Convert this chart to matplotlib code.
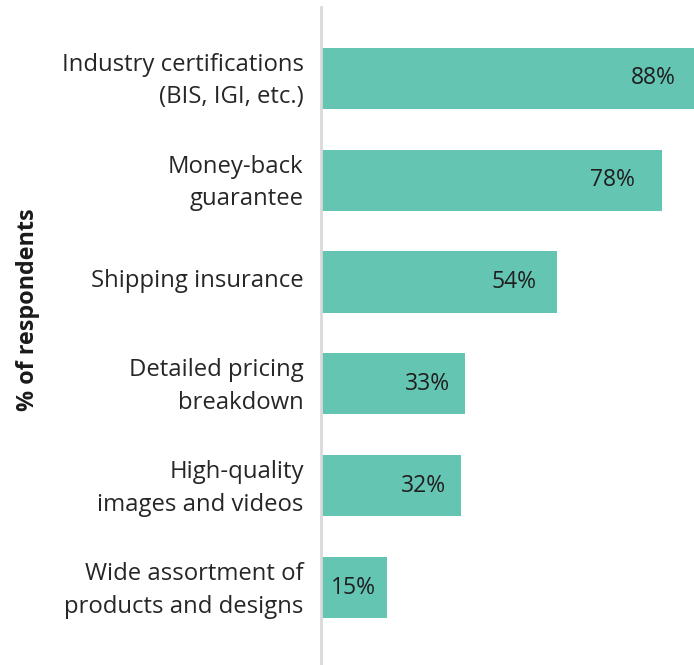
import matplotlib
matplotlib.use("Agg")
from matplotlib import pyplot as plt
from matplotlib import transforms

plt.rcParams['font.family'] = ['Open Sans', 'DejaVu Sans']

# survey answers, top to bottom
categories = [
    "Industry certifications\n(BIS, IGI, etc.)",
    "Money-back\nguarantee",
    "Shipping insurance",
    "Detailed pricing\nbreakdown",
    "High-quality\nimages and videos",
    "Wide assortment of\nproducts and designs",
]
values = [88, 78, 54, 33, 32, 15]
value_labels = ["88%", "78%", "54%", "33%", "32%", "15%"]

bar_color = "#65c5b3"

fig = plt.figure(figsize=(6.94, 6.65), dpi=100)
ax = fig.add_axes([321 / 694, 0, 373 / 694, 658 / 665])

positions = list(range(len(categories)))
ax.barh(positions, values, height=0.6, color=bar_color, zorder=2)

#   VALUE LABELS SIT INSIDE THE BAR, NEAR ITS END
for pos, val, txt in zip(positions, values, value_labels):
    ax.text(val - (1.5 + 0.06 * val), pos, txt, ha="right", va="center",
            fontsize=16.5, color="#1f1f1f", zorder=3)

ax.set_ylim(5.76, -0.7)
ax.set_xlim(0, 85.35)

ax.set_yticks(positions)
ax.set_yticklabels(categories, fontsize=17.2, color="#262626", linespacing=1.48)
ax.tick_params(axis="y", length=0, pad=12.5)
ax.set_xticks([])

# nudge category labels up a little so they sit centred on the bars
nudge = transforms.ScaledTranslation(0, 0.045, fig.dpi_scale_trans)
for lbl in ax.get_yticklabels():
    lbl.set_transform(lbl.get_transform() + nudge)

for side in ["top", "right", "bottom"]:
    ax.spines[side].set_visible(False)
ax.spines["left"].set_color("#d9d9d9")
ax.spines["left"].set_linewidth(2)

fig.text(28 / 694, 1 - 310 / 665, "% of respondents", rotation=90,
         ha="center", va="center", fontsize=16.8, fontweight="bold", color="#1a1a1a")

fig.savefig("out.png", dpi=100)
